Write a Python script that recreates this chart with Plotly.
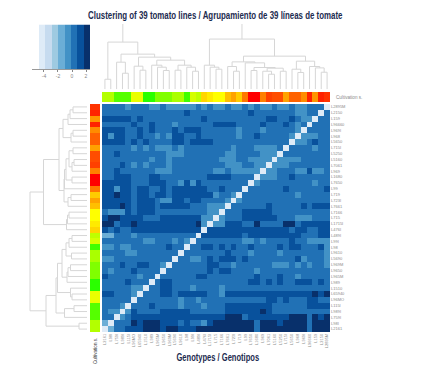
import plotly.graph_objects as go

W, H = 428, 370

RIGHT_LABELS = ["L2895M","L2150","L159","L96660","L969I","L968","L5650","L715I","L5250","L5160","L7061","L969","L1680","L7650","L99","L719","L723I","L7661","L7166","L715","L1715I","L476I","L489I","L99I","L98","L9610","L5690","L969M","L9650","L965M","L989","L1510","L65940","L96MO","L115I","L989I","L759I","L98I","L2161"]
BOTTOM_LABELS = RIGHT_LABELS[::-1]

SIDE_HUES = [12,8,35,8,33,23,23,38,18,18,15,30,0,0,28,48,38,45,60,60,55,50,75,70,105,80,80,90,90,90,110,110,65,65,100,100,100,78,78]

LEVEL_VALUES = [-4.26,-3.34,-2.43,-1.5,-0.6,0.33,1.24,2.16]
BAND_EDGES = [-4.71,-3.8,-2.89,-1.98,-1.07,-0.16,0.75,1.66,2.57]
BLUES = ["#deebf7","#c6dbef","#9ecae1","#6baed6","#4292c6","#2171b5","#08519c","#08306b"]

PALE = {22:"0-1",37:"0",38:"1"}
LIGHT = {0:"4 8-9 11-15 17 19-20 22-23 25 27-28 30-31 33-34",1:"33-34",2:"34-35",3:"12 33",4:"23 27 33",
5:"1 9 11 23 32 34-36",6:"33-34",7:"5 7 9-11 13 22 26-29 36",8:"11-13 21-22 27-29",9:"8 11 20-22 25-28 30-33",
10:"5 7 11 21-23 26-27 29-31",11:"9-11 19-20 22-26 28-29 33-34 36-37",12:"27-29",13:"13 15 26 36",14:"2",15:"19 22 33",
16:"10-11 21 23",17:"18-20",18:"1-3 18-19",19:"17-18 20 33-35",20:"17 19-20",22:"5",23:"7-8 12 14 24-25 27 35-38",
24:"0-1 3-4 38",25:"4-5 25 30 38",26:"0-1 15-16 34 38",27:"10 22 29-31 33 35 38",28:"1 26",29:"6 33",31:"5-6 15 20",
32:"5 20",33:"13 16",34:"3 13 17",35:"1-2 4",36:"3",37:"17"}
DARK = {1:"14 25",2:"0-4 6 17 28-29 32",3:"5 8 19-22 27 31",4:"0-3 6 8 12 14-16",5:"0 2-3 6 12-13 16 26",
6:"0-3 5 7 12-13 15-18 36",8:"2",10:"3",11:"2 35",12:"2-4 8-9 18-21 32",13:"0-4 8-10 14 16",14:"0-1 3-4 6-7 10 12-17 20 31 38",
15:"0-1 3-4 6-7 9-10 12-18",16:"0-4 6-8 12-13 15-16",17:"0-2 4 6-8 10-14 28 34 36-38",18:"4 6-8 24-28",19:"0 3-6 10-16 24-29",
20:"3-4 6-15 21-23 34-38",21:"0 2 5-16 18-31 33-34 37-38",22:"17-23 25-33 37-38",23:"32",24:"11 17-18 20 22 25 30 32-33 37",
25:"21",26:"18 20-22 24 33",27:"3 6-7 18-19",28:"5 18 20-21",29:"0 16-17 26 30",30:"4 10-11 25-26 28 30 33-35 37",31:"10-11",
32:"0-1 10-11 13-17 21-35 37",33:"28-29 31 35-36",34:"8 21-28 35-38",35:"5 10-14 21-26 28",36:"5-20 25-31 37",
37:"6 10-12 14 18 30",38:"4-6 10 13-15"}
DARKEST = {15:"2",17:"3",19:"1-2",20:"0-1 5 16 26 31-32",32:"36 38",35:"27",36:"21-23 32-34 36 38",
37:"5 7-9 19-25 27-29 31-34 36-38",38:"7-9 11-12 16-25 27-34 36-38"}

# Dendrograms: (merge height, left child, right child); an int is a leaf position.
TOP_TREE = (66,
 (47,(10,0,1),
  (35,(27,2,(16,3,4)),
   (32,(23,5,(19,6,7)),
    (29,(24,8,(22,9,(18.7,10,11))),
     (24,(19,12,13),(22,14,(18,15,16))))))),
 (50,(24,17,(22,18,(20,19,20))),
  (33,
   (27.3,(22.7,21,(18,22,23)),
    (26.3,24,(21.7,(18.7,25,26),(21,(18,27,(15,28,29)),(18,30,31))))),
   (28,(20,32,(16.7,33,34)),(22.7,35,(21.3,36,(17,37,38)))))))

LEFT_TREE = (57,
 (43.5,
  (28,
   (24,(19,(17,(14,0,1),2),3),(16,(14,4,5),6)),
   (23,
    (22.5,(21,(18,(14,7,8),(15,(13,9,10),11)),(15,12,13)),14),
    (19,(16,15,16),17))),
  (20.5,(19.5,(18,18,19),20),21)),
 (41,
  (31,
   (29.5,
    (25,
     (21,(18,(15,22,23),24),(15.5,25,26)),
     (20,(19,(16.5,27,28),29),30)),
    (16.5,31,(15,32,33))),
   (22.5,(13,34,35),36)),
  (8,37,38)))


def parse(spec):
    out = []
    for tok in spec.split():
        if "-" in tok:
            a, b = tok.split("-")
            out.extend(range(int(a), int(b) + 1))
        else:
            out.append(int(tok))
    return out


levels = [[5] * 39 for _ in range(39)]
for lvl, table in ((3, PALE), (4, LIGHT), (6, DARK), (7, DARKEST)):
    for r, spec in table.items():
        for c in parse(spec):
            levels[r][c] = lvl
for r in range(39):
    levels[r][38 - r] = 0
z = [[LEVEL_VALUES[v] for v in row] for row in levels]


def segs(node):
    """Return position, height and line segments of a subtree."""
    if isinstance(node, int):
        return node, 0, []
    h, a, b = node
    pa, ha, sa = segs(a)
    pb, hb, sb = segs(b)
    return (pa + pb) / 2, h, sa + sb + [(pa, ha, pa, h), (pa, h, pb, h), (pb, h, pb, hb)]


def xy(node, swap=False):
    xs, ys = [], []
    for p0, h0, p1, h1 in segs(node)[2]:
        if swap:
            xs += [h0, h1, None]
            ys += [p0, p1, None]
        else:
            xs += [p0, p1, None]
            ys += [h0, h1, None]
    return xs, ys


def dx(a, b):
    return [a / W, b / W]


def dy(top, bot):
    return [1 - bot / H, 1 - top / H]


n = len(BAND_EDGES) - 1
scale = []
for i, c in enumerate(BLUES):
    scale += [[i / n, c], [(i + 1) / n, c]]
side_scale = [[0, "#ff0000"], [0.5, "#ffff00"], [1, "#00ff00"]]
pos = list(range(39))

fig = go.Figure()
fig.add_trace(go.Heatmap(z=z, x=pos, y=pos, colorscale=scale, zmin=BAND_EDGES[0], zmax=BAND_EDGES[-1],
                         showscale=False, xaxis="x", yaxis="y", hoverinfo="skip"))
fig.add_trace(go.Heatmap(z=[SIDE_HUES[::-1]], x=pos, y=[0], colorscale=side_scale, zmin=0, zmax=120,
                         showscale=False, xaxis="x2", yaxis="y2", hoverinfo="skip"))
fig.add_trace(go.Heatmap(z=[[v] for v in SIDE_HUES], x=[0], y=pos, colorscale=side_scale, zmin=0, zmax=120,
                         showscale=False, xaxis="x3", yaxis="y3", hoverinfo="skip"))
tx, ty = xy(TOP_TREE)
fig.add_trace(go.Scatter(x=tx, y=ty, mode="lines", line=dict(color="#d6d6d6", width=1), xaxis="x4", yaxis="y4", hoverinfo="skip"))
lx, ly = xy(LEFT_TREE, swap=True)
fig.add_trace(go.Scatter(x=lx, y=ly, mode="lines", line=dict(color="#d6d6d6", width=1), xaxis="x5", yaxis="y5", hoverinfo="skip"))
fig.add_trace(go.Heatmap(z=[LEVEL_VALUES], x=BAND_EDGES, y=[0, 1], colorscale=scale, zmin=BAND_EDGES[0], zmax=BAND_EDGES[-1],
                         showscale=False, xaxis="x6", yaxis="y6", hoverinfo="skip"))

off = dict(visible=False, showgrid=False, zeroline=False)
lab = dict(family="Liberation Sans, Arial", size=4, color="#8a8a8a")
lab2 = dict(family="Liberation Sans, Arial", size=4.6, color="#8a8a8a")
title_font = dict(family="Liberation Sans, Arial", size=10, color="#1c2b4f")
rng = [-0.5, 38.5]

fig.update_layout(
    width=W, height=H, margin=dict(l=0, r=0, t=0, b=0), paper_bgcolor="white", plot_bgcolor="white", showlegend=False,
    xaxis=dict(domain=dx(102, 330), range=rng, tickmode="array", tickvals=pos, ticktext=BOTTOM_LABELS, tickangle=-90,
               side="bottom", showgrid=False, zeroline=False, ticks="", tickfont=lab, anchor="y", showline=False),
    yaxis=dict(domain=dy(104, 332), range=rng[::-1], tickmode="array", tickvals=pos, ticktext=RIGHT_LABELS, side="right",
               showgrid=False, zeroline=False, ticks="", tickfont=lab, anchor="x", showline=False),
    xaxis2=dict(domain=dx(102, 330), range=rng, anchor="y2", **off),
    yaxis2=dict(domain=dy(92, 102), range=[-0.5, 0.5], anchor="x2", **off),
    xaxis3=dict(domain=dx(90, 100), range=[-0.5, 0.5], anchor="y3", **off),
    yaxis3=dict(domain=dy(104, 332), range=rng[::-1], anchor="x3", **off),
    xaxis4=dict(domain=dx(102, 330), range=rng, anchor="y4", **off),
    yaxis4=dict(domain=dy(24, 89.3), range=[0, 65], anchor="x4", **off),
    xaxis5=dict(domain=dx(29, 87), range=[58, 0], anchor="y5", **off),
    yaxis5=dict(domain=dy(104, 332), range=rng[::-1], anchor="x5", **off),
    xaxis6=dict(domain=dx(32, 90), range=[-5.71, 2.57], anchor="y6", tickmode="array", tickvals=[-4, -2, 0, 2],
                ticktext=["-4", "-2", "0", "2"], ticks="outside", ticklen=1.5, tickwidth=1, tickcolor="#888888",
                showline=True, linecolor="#999999", linewidth=1, showgrid=False, zeroline=False,
                tickfont=dict(family="Liberation Sans, Arial", size=5, color="#888888")),
    yaxis6=dict(domain=dy(24.5, 69), range=[0, 1], anchor="x6", **off),
    annotations=[
        dict(text="<b>Clustering of 39 tomato lines / Agrupamiento de 39 líneas de tomate</b>", x=215.5 / W, y=1 - 15 / H,
             xref="paper", yref="paper", showarrow=False, font=title_font, xanchor="center", yanchor="middle"),
        dict(text="<b>Genotypes / Genotipos</b>", x=218.5 / W, y=1 - 357 / H, xref="paper", yref="paper", showarrow=False,
             font=title_font, xanchor="center", yanchor="middle"),
        dict(text="Cultivation s.", x=334 / W, y=1 - 97 / H, xref="paper", yref="paper", showarrow=False, font=lab2,
             xanchor="left", yanchor="middle"),
        dict(text="Cultivation s.", x=95 / W, y=1 - 336 / H, xref="paper", yref="paper", showarrow=False,
             font=dict(family="Liberation Sans, Arial", size=4.6, color="#333333"), textangle=-90, xanchor="center", yanchor="top"),
    ],
)
# The reference headings use a condensed face: squeeze the two bold headings to its widths.
squeeze = """
document.body.style.margin='0';
document.querySelectorAll('.annotation-text').forEach(function(t){
  var s=t.textContent, w=s.indexOf('Clustering')===0?255:(s.indexOf('Genotypes')===0?83:0);
  if(!w) return;
  var box=t.getBBox(), cx=box.x+box.width/2;
  t.setAttribute('transform','translate('+cx+' 0) scale('+(w/box.width)+' 1) translate('+(-cx)+' 0)');
});
"""
fig.write_html("out.html", config={"displayModeBar": False}, post_script=squeeze)
